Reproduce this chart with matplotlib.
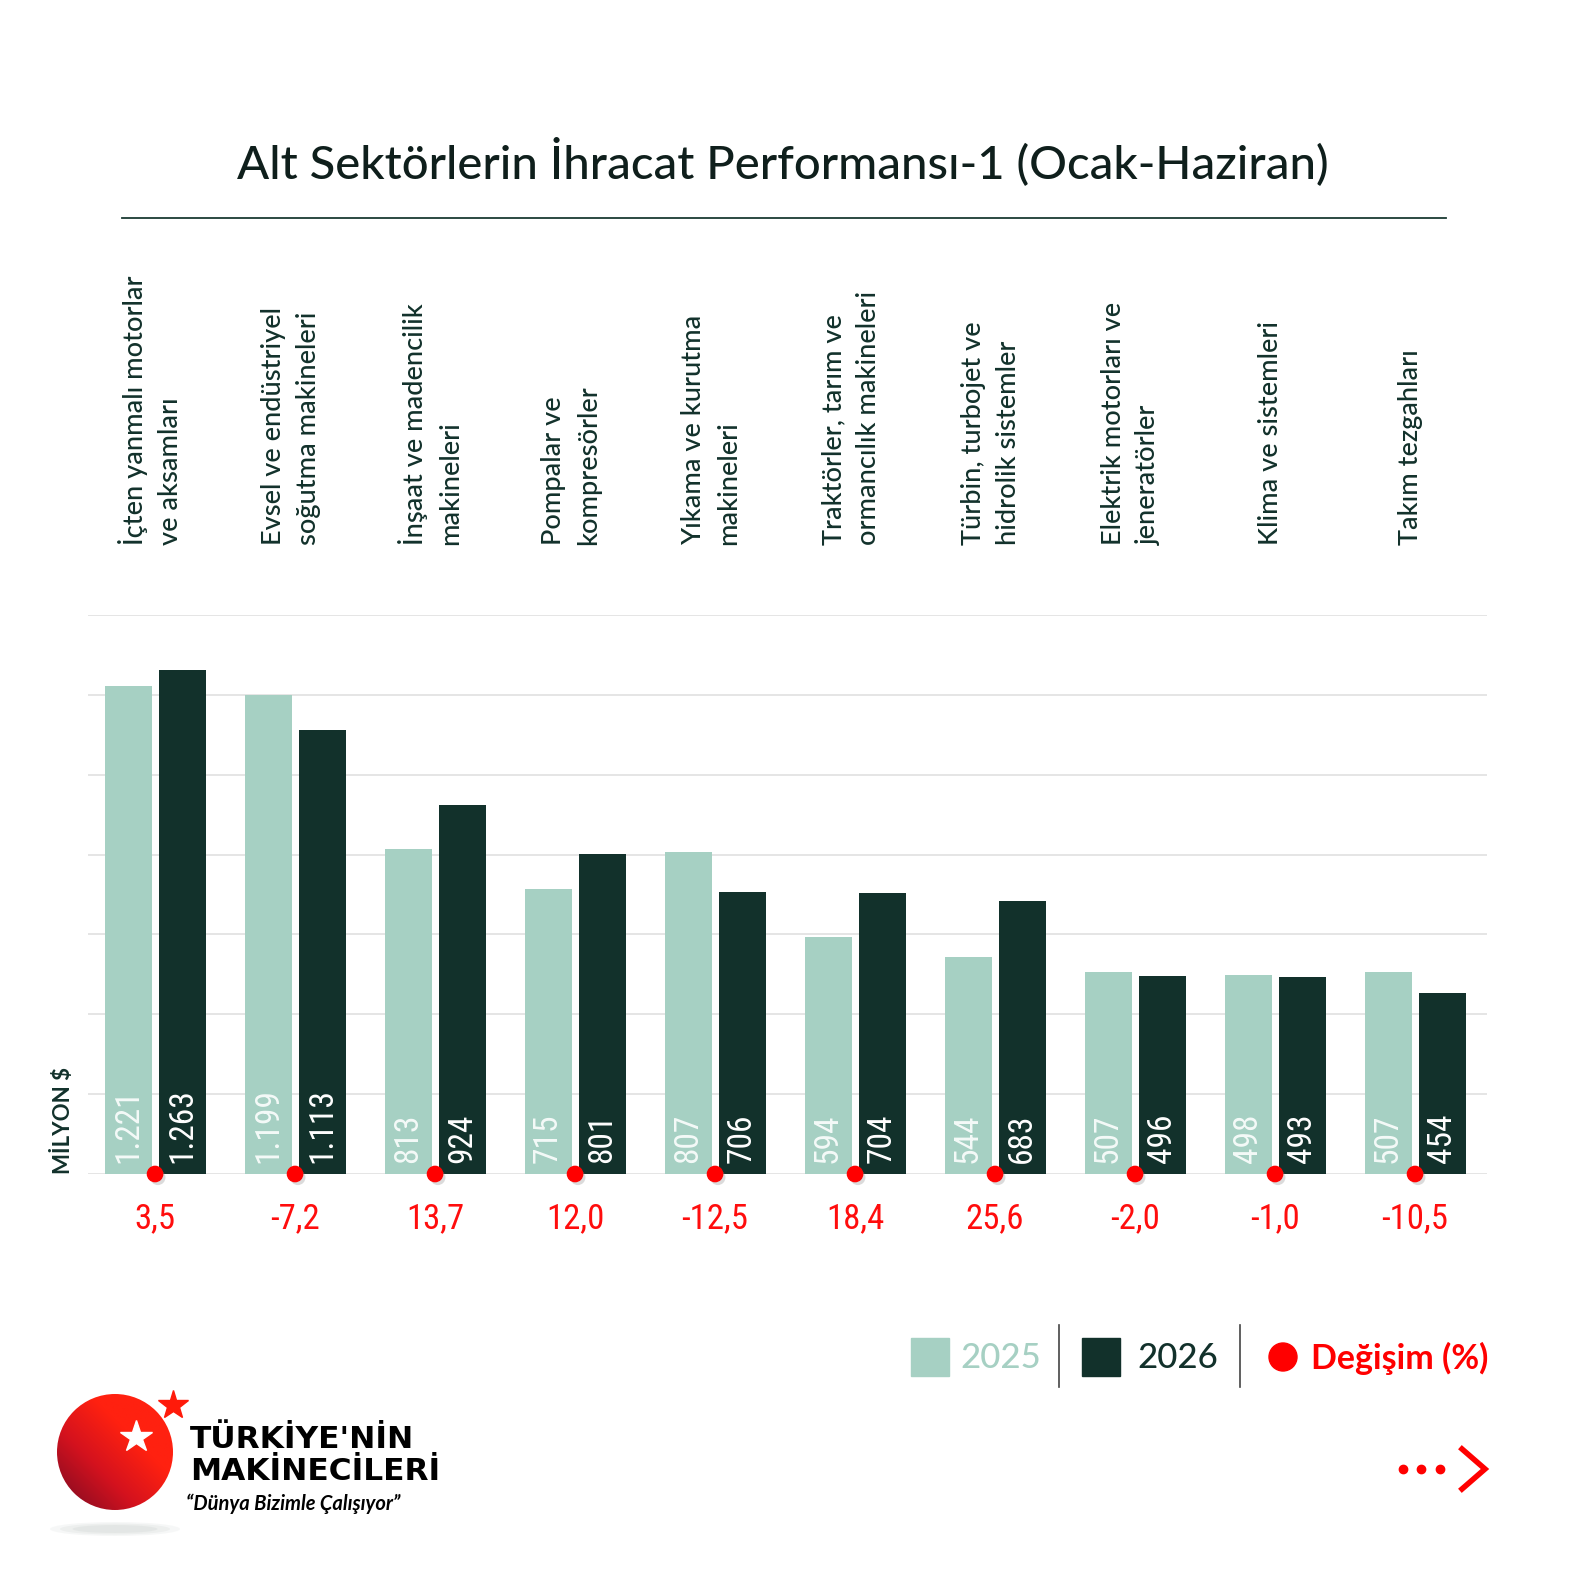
import numpy as np
import matplotlib
matplotlib.use('Agg')
import matplotlib.pyplot as plt
import matplotlib.patheffects as pe
from matplotlib.patches import Circle, Ellipse, Rectangle
from matplotlib.colors import LinearSegmentedColormap
from matplotlib.transforms import blended_transform_factory

# data
categories = [
    "İçten yanmalı motorlar\nve aksamları",
    "Evsel ve endüstriyel\nsoğutma makineleri",
    "İnşaat ve madencilik\nmakineleri",
    "Pompalar ve\nkompresörler",
    "Yıkama ve kurutma\nmakineleri",
    "Traktörler, tarım ve\normancılık makineleri",
    "Türbin, turbojet ve\nhidrolik sistemler",
    "Elektrik motorları ve\njeneratörler",
    "Klima ve sistemleri",
    "Takım tezgahları",
]
v2025 = [1221, 1199, 813, 715, 807, 594, 544, 507, 498, 507]
v2026 = [1263, 1113, 924, 801, 706, 704, 683, 496, 493, 454]
change = [3.5, -7.2, 13.7, 12.0, -12.5, 18.4, 25.6, -2.0, -1.0, -10.5]
years = ["2025", "2026"]
title = "Alt Sektörlerin İhracat Performansı-1 (Ocak-Haziran)"

LIGHT = '#a6d0c3'
DARK = '#12312b'
RED = '#ff0d0d'
NARROW = ['Roboto Condensed', 'Noto Sans Condensed', 'Liberation Sans Narrow', 'Lato']
HUMAN = ['Lato', 'DejaVu Sans']

W = H = 1575
fig = plt.figure(figsize=(W / 100, H / 100), dpi=100)
fig.patch.set_facecolor('white')

# overlay in pixel coords for decorations
ov = fig.add_axes([0, 0, 1, 1], zorder=0)
ov.set_xlim(0, W); ov.set_ylim(H, 0)
ov.axis('off'); ov.patch.set_visible(False)

# main chart
ax = fig.add_axes([88 / W, 1 - 1174 / H, (1487 - 88) / W, (1174 - 615) / H], zorder=1)
ax.patch.set_visible(False)
x = np.arange(len(categories))
bw = 0.336
off = 0.193
ax.bar(x - off, v2025, bw, color=LIGHT, zorder=2)
ax.bar(x + off, v2026, bw, color=DARK, zorder=2)
ax.set_xlim(-0.479, 9.514)
ax.set_ylim(0, 1400)
ax.set_yticks(range(0, 1401, 200))
ax.yaxis.grid(True, color='#e3e3e3', lw=1.3)
ax.set_axisbelow(True)
ax.tick_params(length=0, labelleft=False, labelbottom=False)
for s in ax.spines.values():
    s.set_visible(False)

def fmt_int(v):
    return f"{v:,}".replace(',', '.')

for i in range(len(categories)):
    ax.annotate(fmt_int(v2025[i]), (x[i] - off, 0), xytext=(0, 8), textcoords='offset points',
                rotation=90, ha='center', va='bottom', color='#f4faf8',
                fontsize=24, family=NARROW, zorder=4)
    ax.annotate(fmt_int(v2026[i]), (x[i] + off, 0), xytext=(0, 8), textcoords='offset points',
                rotation=90, ha='center', va='bottom', color='white',
                fontsize=24, family=NARROW, zorder=4)
    ax.annotate(f"{change[i]:.1f}".replace('.', ','), (x[i], 0), xytext=(0, -32),
                textcoords='offset points', ha='center', va='center', color=RED,
                fontsize=25, family=NARROW, annotation_clip=False)

ax.plot(x, np.zeros(len(x)), 'o', ms=11, color='#ff0000', mec='#ff0000', clip_on=False, zorder=6,
        path_effects=[pe.SimplePatchShadow(offset=(2, -2.5), shadow_rgbFace='#999999', alpha=0.35),
                      pe.Normal()])

# category labels
tr = blended_transform_factory(ax.transData, fig.transFigure)
for i, c in enumerate(categories):
    ax.text(x[i] - 0.03, 1 - 545 / H, c, transform=tr, rotation=90, ha='center', va='bottom',
            multialignment='left', fontsize=19.5, linespacing=1.5, color=DARK, family=HUMAN,
            fontweight='medium')

# y label
fig.text(62 / W, 1 - 1174 / H, "MİLYON $", rotation=90, ha='center', va='bottom',
         fontsize=16, fontweight='bold', color=DARK, family=HUMAN)

# title
ov.text(783, 162, title, ha='center', va='center', fontsize=34, color='#0f1f1c', family=HUMAN,
        fontweight='medium')
ov.plot([122, 1446], [218, 218], color='#1a3a33', lw=1.3)

# legend
ov.add_patch(Rectangle((911, 1338), 38, 38, color=LIGHT))
ov.text(960, 1358, years[0], ha='left', va='center', fontsize=25, color=LIGHT, family=HUMAN,
        fontweight='medium')
ov.plot([1059, 1059], [1325, 1387], color='#444444', lw=1.2)
ov.add_patch(Rectangle((1082, 1338), 38, 38, color=DARK))
ov.text(1137, 1358, years[1], ha='left', va='center', fontsize=25, color=DARK, family=HUMAN,
        fontweight='medium')
ov.plot([1240, 1240], [1325, 1387], color='#444444', lw=1.2)
ov.add_patch(Circle((1283, 1357), 14, color='#ff0000'))
ov.text(1311, 1358, "Değişim (%)", ha='left', va='center', fontsize=24.5, fontweight='bold',
        color='#ff0000', family=HUMAN)

# arrow
ov.plot([1403, 1421, 1440], [1469, 1469, 1469], 'o', ms=6, color='#ff0000')
ov.plot([1462, 1485, 1462], [1449, 1469, 1489], color='#ff0000', lw=4, solid_joinstyle='miter')

# logo
for k, (w, a) in enumerate([(130, 0.15), (110, 0.2), (85, 0.25)]):
    ov.add_patch(Ellipse((115, 1529), w, 14 - k * 3, color='#c9cfcd', alpha=a, lw=0))
n = 200
rows, cols = np.mgrid[0:n, 0:n]
t = np.clip((cols - rows) / n * 0.9 + 0.75, 0, 1)
cmap = LinearSegmentedColormap.from_list('lg', [(0, '#8a0c22'), (0.5, '#d4121e'), (1, '#ff2110')])
im = ov.imshow(t, cmap=cmap, extent=(56, 174, 1393, 1511), origin='lower', zorder=2)
clip = Circle((115, 1452), 58, transform=ov.transData)
im.set_clip_path(clip)
ov.set_xlim(0, W); ov.set_ylim(H, 0)
ov.plot(136, 1437, marker='*', ms=24, color='white', mec='white', zorder=3)
ov.plot(173, 1405, marker='*', ms=22, color='#ff1a0a', mec='#ff1a0a', zorder=3)
ov.text(190, 1440, "TÜRKİYE'NİN", ha='left', va='center', fontsize=22.5, fontweight='bold',
        color='black', family=['DejaVu Sans'])
ov.text(190, 1472, "MAKİNECİLERİ", ha='left', va='center', fontsize=22.5, fontweight='bold',
        color='black', family=['DejaVu Sans'])
ov.text(186, 1504, "“Dünya Bizimle Çalışıyor”", ha='left', va='center', fontsize=14.5,
        style='italic', fontweight='bold', color='black', family=HUMAN)

fig.savefig('out.png', dpi=100, facecolor='white')
